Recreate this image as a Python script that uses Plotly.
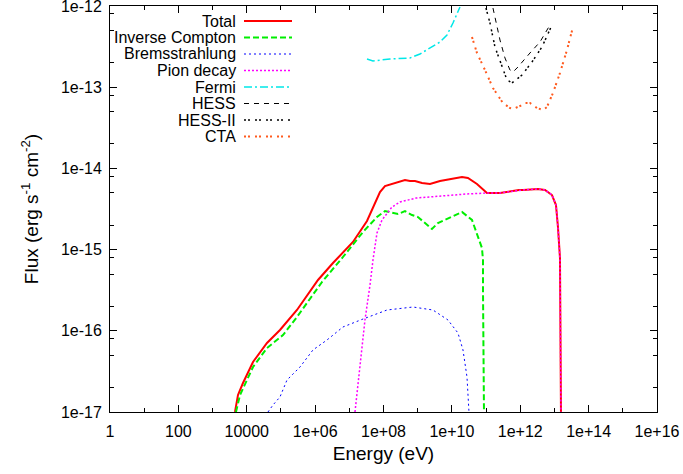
import plotly.graph_objects as go

# ---------------- data ----------------
total_logE = [3.656, 3.744, 3.890, 4.183, 4.592, 4.972, 5.469, 6.084, 6.522, 7.107, 7.517, 7.692, 7.897,
              8.043, 8.248, 8.482, 8.628, 8.775, 8.921, 9.126, 9.360, 9.652, 9.944, 10.296, 10.470,
              10.734, 11.027, 11.407, 11.962, 12.080, 12.518, 12.723, 12.928, 13.045, 13.103, 13.162, 13.191]
total_logF = [-17.0, -16.79, -16.643, -16.384, -16.150, -15.990, -15.744, -15.374, -15.165, -14.906, -14.648,
              -14.491, -14.291, -14.217, -14.192, -14.167, -14.143, -14.155, -14.155, -14.180, -14.192,
              -14.155, -14.130, -14.106, -14.118, -14.192, -14.303, -14.303, -14.266, -14.266, -14.254,
              -14.266, -14.328, -14.451, -14.722, -15.103, -17.0]

ic_logE = [3.685, 3.802, 4.183, 4.592, 5.060, 5.469, 6.201, 6.815, 7.400, 7.809, 8.043, 8.248, 8.424,
           8.628, 8.833, 9.008, 9.418, 9.593, 9.857, 10.296, 10.588, 10.734, 10.880, 10.910, 10.910, 10.939]
ic_logF = [-17.0, -16.791, -16.446, -16.212, -16.052, -15.830, -15.399, -15.091, -14.783, -14.599, -14.525,
           -14.549, -14.562, -14.525, -14.574, -14.599, -14.746, -14.672, -14.623, -14.537, -14.635,
           -14.796, -14.980, -15.128, -15.498, -17.0]

brems_logE = [4.621, 4.767, 4.972, 5.177, 5.557, 5.937, 6.347, 6.815, 7.400, 8.102, 8.862, 9.447, 9.886,
              10.178, 10.325, 10.442, 10.500]
brems_logF = [-17.0, -16.914, -16.815, -16.606, -16.446, -16.236, -16.113, -15.953, -15.855, -15.744,
              -15.707, -15.744, -15.867, -16.027, -16.236, -16.569, -17.0]

pion_logE = [7.166, 7.312, 7.458, 7.605, 7.692, 7.809, 7.955, 8.248, 8.482, 8.950, 9.623, 10.442, 11.027,
             11.407, 12.080, 12.518, 12.723, 12.928, 13.045, 13.103, 13.162, 13.191]
pion_logF = [-17.0, -16.397, -15.867, -15.436, -15.128, -14.796, -14.636, -14.476, -14.414, -14.365,
             -14.340, -14.315, -14.303, -14.303, -14.266, -14.254, -14.266, -14.328, -14.451, -14.722,
             -15.103, -17.0]

fermi_logE = [7.517, 7.692, 8.190, 8.774, 9.067, 9.360, 9.652, 9.857, 10.032, 10.237]
fermi_logF = [-12.653, -12.677, -12.653, -12.640, -12.591, -12.517, -12.443, -12.357, -12.209, -12.012]

hess_logE = [11.202, 11.407, 11.553, 11.699, 11.787, 11.933, 12.284, 12.577, 12.869]
hess_logF = [-12.025, -12.419, -12.640, -12.788, -12.813, -12.751, -12.579, -12.443, -12.234]

hess2_logE = [10.997, 11.114, 11.261, 11.465, 11.612, 11.758, 12.050, 12.343, 12.635, 12.928]
hess2_logF = [-12.025, -12.209, -12.505, -12.751, -12.911, -12.948, -12.850, -12.690, -12.505, -12.234]

cta_logE = [10.588, 10.734, 10.968, 11.202, 11.494, 11.699, 11.787, 11.992, 12.138, 12.284, 12.489,
            12.665, 12.781, 12.957, 13.162, 13.367, 13.542]
cta_logF = [-12.382, -12.579, -12.788, -13.010, -13.195, -13.256, -13.268, -13.232, -13.195, -13.195,
            -13.256, -13.281, -13.244, -13.071, -12.825, -12.542, -12.259]

names = ["Total", "Inverse Compton", "Bremsstrahlung", "Pion decay", "Fermi", "HESS", "HESS-II", "CTA"]

x_tickvals = [1e0, 1e2, 1e4, 1e6, 1e8, 1e10, 1e12, 1e14, 1e16]
x_ticktext = ["1", "100", "10000", "1e+06", "1e+08", "1e+10", "1e+12", "1e+14", "1e+16"]
y_tickvals = [1e-17, 1e-16, 1e-15, 1e-14, 1e-13, 1e-12]
y_ticktext = ["1e-17", "1e-16", "1e-15", "1e-14", "1e-13", "1e-12"]

# ---------------- styles ----------------
series = [
    (total_logE, total_logF, dict(color="#ff0000", width=2, dash="solid")),
    (ic_logE, ic_logF, dict(color="#00ee00", width=2, dash="6px,3px")),
    (brems_logE, brems_logF, dict(color="#0000ff", width=1, dash="2px,3px")),
    (pion_logE, pion_logF, dict(color="#ff00ff", width=1.5, dash="2px,2px")),
    (fermi_logE, fermi_logF, dict(color="#00e8e8", width=1.5, dash="8px,3px,2px,3px")),
    (hess_logE, hess_logF, dict(color="#000000", width=1, dash="5px,5px")),
    (hess2_logE, hess2_logF, dict(color="#000000", width=1.5, dash="2px,2px,2px,5px")),
    (cta_logE, cta_logF, dict(color="#ff5a1e", width=2, dash="2px,2px,2px,5px")),
]

FONT = "Liberation Sans"
FS = 16
fig = go.Figure()
for (lx, ly, ln), nm in zip(series, names):
    fig.add_trace(go.Scatter(x=[10 ** v for v in lx], y=[10 ** v for v in ly], mode="lines",
                             name=nm, line=ln, showlegend=False, cliponaxis=True))

# ---------------- custom gnuplot-style legend (text right, sample left) ----------------
L, T, W, H = 110, 6, 547, 406
def px(xp):
    return (xp - L) / W
def py(yp):
    return 1 - (yp - T) / H
for i, ((lx, ly, ln), nm) in enumerate(zip(series, names)):
    yrow = 21 + i * 16.5
    fig.add_annotation(x=px(238), y=py(yrow), xref="paper", yref="paper", text=nm, showarrow=False,
                       xanchor="right", yanchor="middle", font=dict(family=FONT, size=FS, color="black"))
    fig.add_shape(type="line", xref="paper", yref="paper", x0=px(244), x1=px(292), y0=py(yrow), y1=py(yrow),
                  line=ln)

minor_x = [10 ** k for k in range(1, 16, 2)]
minor_y = [m * 10.0 ** d for d in range(-17, -12) for m in (2, 5, 8)]

fig.update_layout(
    width=683, height=474,
    margin=dict(l=L, r=683 - L - W, t=T, b=474 - T - H, autoexpand=False),
    plot_bgcolor="white", paper_bgcolor="white",
    font=dict(family=FONT, size=FS, color="black"),
    xaxis=dict(type="log", range=[0, 16], tickvals=x_tickvals, ticktext=x_ticktext, automargin=False,
               ticks="inside", ticklen=7, tickcolor="black", showline=True, linecolor="black",
               linewidth=1, mirror="ticks", showgrid=False, zeroline=False, ticklabeloverflow="allow",
               ticklabelstandoff=5,
               minor=dict(tickvals=minor_x, ticks="inside", ticklen=4, tickcolor="black", showgrid=False),
               title=dict(text="Energy (eV)", standoff=7), tickfont=dict(size=FS)),
    yaxis=dict(type="log", range=[-17, -12], tickvals=y_tickvals, ticktext=y_ticktext, automargin=False,
               ticks="inside", ticklen=7, tickcolor="black", showline=True, linecolor="black",
               linewidth=1, mirror="ticks", showgrid=False, zeroline=False, ticklabeloverflow="allow",
               ticklabelstandoff=4,
               minor=dict(tickvals=minor_y, ticks="inside", ticklen=4, tickcolor="black", showgrid=False),
               title=dict(text="Flux (erg s<sup>-1</sup> cm<sup>-2</sup>)", standoff=17), tickfont=dict(size=FS)),
)

fig.write_html("out.html", config={"displayModeBar": False},
               post_script="document.body.style.margin='0';")
